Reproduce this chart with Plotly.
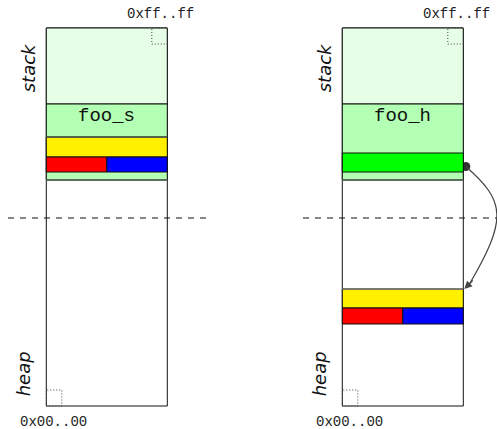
import plotly.graph_objects as go

# ---------------- data: memory layout (address units, 0 = 0x00..00, 378 = 0xff..ff)
ADDR_LO = 0
ADDR_HI = 378
addr_labels = ["0x00..00", "0xff..ff"]
region_labels = ["heap", "stack"]
stack_free_start = 302     # top of used stack
frame_bottom = 226         # bottom of the frame (foo_s / foo_h)
divider = 188              # stack/heap boundary

# left column: struct stored on the stack (foo_s)
left_name = "foo_s"
left_fields = ["hdr", "a", "b"]
left_lo = [249, 234, 234]
left_hi = [269, 249, 249]
left_x0 = [0.0, 0.0, 0.5]
left_x1 = [1.0, 0.5, 1.0]

# right column: pointer on the stack (foo_h), struct on the heap
right_name = "foo_h"
ptr_lo, ptr_hi = 234, 253
heap_fields = ["hdr", "a", "b"]
heap_lo = [98, 82, 82]
heap_hi = [117, 98, 98]
heap_x0 = [0.0, 0.0, 0.5]
heap_x1 = [1.0, 0.5, 1.0]

# ---------------- styles / layout
W, H = 497, 429
BOX_W = 121
COLS = [46.3, 342.3]
C_FREE = "#e6fde6"
C_FRAME = "#b3ffb3"
C_PTR = "#00ff00"
FIELD_COLORS = ["#fff000", "#ff0000", "#0000ff"]
EDGE = "#111111"

shapes = []
annotations = []


def rect(x0, x1, y0, y1, fill, line=EDGE, width=1):
    shapes.append(dict(type="rect", xref="x", yref="y", x0=x0, x1=x1, y0=y0, y1=y1,
                       fillcolor=fill, line=dict(color=line, width=width), layer="above"))


def line(x0, y0, x1, y1, color=EDGE, width=1, dash="solid"):
    shapes.append(dict(type="line", xref="x", yref="y", x0=x0, y0=y0, x1=x1, y1=y1,
                       line=dict(color=color, width=width, dash=dash), layer="above"))


for ci, cx in enumerate(COLS):
    rect(cx, cx + BOX_W, ADDR_LO, ADDR_HI, "white")
    rect(cx, cx + BOX_W, stack_free_start, ADDR_HI, C_FREE)
    rect(cx, cx + BOX_W, frame_bottom, stack_free_start, C_FRAME)
    line(cx, frame_bottom, cx + BOX_W, frame_bottom, "#5a6e5a", 2)
    for (xa, xb, ya, yb) in [(cx + BOX_W - 15.5, cx + BOX_W, ADDR_HI - 16, ADDR_HI),
                             (cx, cx + 15.5, ADDR_LO, ADDR_LO + 16)]:
        shapes.append(dict(type="rect", xref="x", yref="y", x0=xa, x1=xb, y0=ya, y1=yb,
                           line=dict(color="#444444", width=1, dash="1px,2px"), layer="above"))
    annotations.append(dict(x=cx + BOX_W - 7, y=ADDR_HI + 14, text=addr_labels[1], showarrow=False,
                            xanchor="center", yanchor="middle",
                            font=dict(family="Liberation Mono", size=14, color="#222")))
    annotations.append(dict(x=cx + 7.5, y=ADDR_LO - 16, text=addr_labels[0], showarrow=False,
                            xanchor="center", yanchor="middle",
                            font=dict(family="Liberation Mono", size=14, color="#222")))
    annotations.append(dict(x=cx - 18, y=ADDR_HI - 40, text=f"<i>{region_labels[1]}</i>", showarrow=False,
                            textangle=-90, xanchor="center", yanchor="middle",
                            font=dict(family="DejaVu Sans", size=18, color="#111")))
    annotations.append(dict(x=cx - 23, y=ADDR_LO + 32, text=f"<i>{region_labels[0]}</i>", showarrow=False,
                            textangle=-90, xanchor="center", yanchor="middle",
                            font=dict(family="DejaVu Sans", size=18, color="#111")))

# left: struct fields on stack
cx = COLS[0]
for lo, hi, a, b, col in zip(left_lo, left_hi, left_x0, left_x1, FIELD_COLORS):
    rect(cx + a * BOX_W, cx + b * BOX_W, lo, hi, col)
line(cx, left_hi[0], cx + BOX_W, left_hi[0], "#4a5a4a", 1.5)
annotations.append(dict(x=cx + BOX_W / 2, y=stack_free_start - 12, text=left_name, showarrow=False,
                        font=dict(family="Liberation Mono", size=19, color="#111")))

# right: pointer on stack, struct on heap
cx = COLS[1]
rect(cx, cx + BOX_W, ptr_lo, ptr_hi, C_PTR)
annotations.append(dict(x=cx + BOX_W / 2, y=stack_free_start - 12, text=right_name, showarrow=False,
                        font=dict(family="Liberation Mono", size=19, color="#111")))
for lo, hi, a, b, col in zip(heap_lo, heap_hi, heap_x0, heap_x1, FIELD_COLORS):
    rect(cx + a * BOX_W, cx + b * BOX_W, lo, hi, col)
line(cx, heap_hi[0], cx + BOX_W, heap_hi[0], "#777777", 1.5)

# divider between stack and heap
line(8, divider, 208, divider, "#111", 1.2, "6px,6px")
line(303, divider, W, divider, "#111", 1.2, "6px,6px")

# pointer arrow (curved)
px, py = cx + BOX_W + 2.5, (ptr_lo + ptr_hi) / 2 - 4
tx, ty = cx + BOX_W + 1, heap_hi[0]
shapes.append(dict(type="path", xref="x", yref="y",
                   path=f"M {px},{py} C {px + 40},{py - 35} {px + 42},{ty + 70} {tx + 4},{ty + 3}",
                   line=dict(color="#444444", width=1.2), layer="above"))
annotations.append(dict(x=tx, y=ty, ax=tx + 10, ay=ty + 10, axref="x", ayref="y", xref="x", yref="y",
                        text="", showarrow=True, arrowhead=2, arrowsize=1.3, arrowwidth=1.2,
                        arrowcolor="#444444"))

fig = go.Figure()
fig.add_trace(go.Scatter(x=[px], y=[py], mode="markers",
                         marker=dict(size=9, color="#333333"), hoverinfo="skip", showlegend=False))
fig.update_layout(
    width=W, height=H, margin=dict(l=0, r=0, t=0, b=0),
    paper_bgcolor="white", plot_bgcolor="white",
    xaxis=dict(range=[0, W], visible=False, fixedrange=True),
    yaxis=dict(range=[406 - H, 406], visible=False, fixedrange=True),
    shapes=shapes, annotations=annotations, showlegend=False,
)
fig.write_html("out.html", config={"displayModeBar": False},
               post_script="document.body.style.margin='0';document.body.style.overflow='hidden';")
